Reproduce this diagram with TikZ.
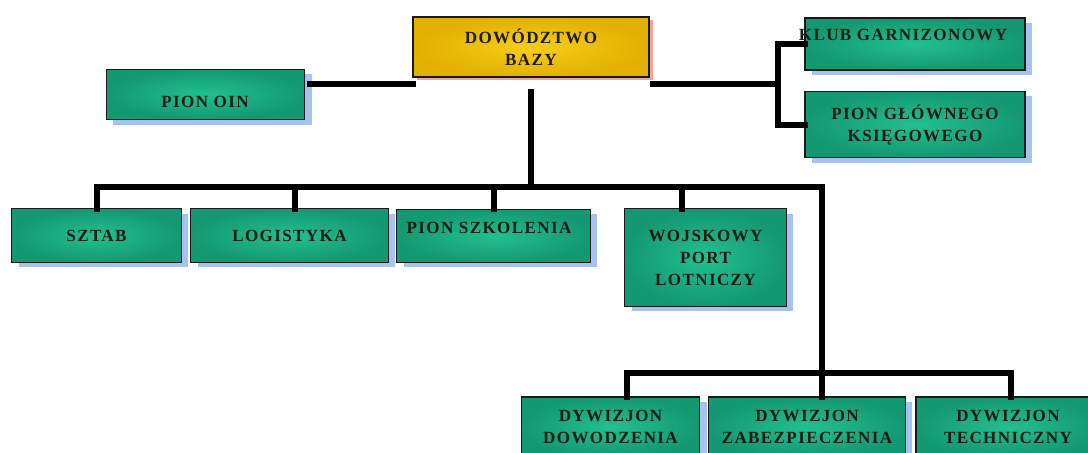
\documentclass[tikz,border=0pt]{standalone}
\usepackage{fontspec}
\setmainfont{Liberation Serif}[LetterSpace=8]
\usetikzlibrary{shadows}
\definecolor{gin}{RGB}{34,192,142}
\definecolor{gout}{RGB}{20,152,114}
\definecolor{yin}{RGB}{248,205,25}
\definecolor{yout}{RGB}{226,176,0}
\definecolor{shblue}{RGB}{165,195,238}
\definecolor{shpink}{RGB}{232,170,150}
\definecolor{edge}{RGB}{25,25,25}
\definecolor{txt}{RGB}{28,28,20}
\begin{document}
\begin{tikzpicture}[x=0.75pt,y=-0.75pt,
  every node/.style={font=\fontsize{12.8}{16.5}\selectfont\bfseries, text=txt, align=center, inner sep=0pt, outer sep=0pt},
  gbox/.style={draw=edge, line width=0.9pt, inner color=gin, outer color=gout,
     drop shadow={shadow xshift=5pt, shadow yshift=-3.5pt, fill=shblue, opacity=1}},
  ybox/.style={draw=edge, line width=0.9pt, inner color=yin, outer color=yout,
     drop shadow={shadow xshift=3pt, shadow yshift=-2.5pt, fill=shpink, opacity=1}},
  conn/.style={line width=4.5pt, line join=miter, line cap=rect}]
\useasboundingbox (0,0) rectangle (1088,453);
\clip (0,0) rectangle (1088,453);
% boxes
\node[ybox, minimum width=177pt, minimum height=45pt] (baza) at (531,47) {DOWÓDZTWO\\BAZY};
\node[gbox, minimum width=149pt, minimum height=38pt] (oin) at (205.5,94.5) {};
\node (oint) at (205,102) {PION OIN};
\node[gbox, minimum width=165pt, minimum height=39pt] (klub) at (915,44) {};
\node (klubt) at (903,35) {KLUB GARNIZONOWY};
\node[gbox, minimum width=165pt, minimum height=50pt] (glow) at (915,124.5) {PION GŁÓWNEGO\\KSIĘGOWEGO};
\node[gbox, minimum width=127pt, minimum height=40pt] (sztab) at (96.5,235.5) {SZTAB};
\node[gbox, minimum width=148pt, minimum height=40pt] (log) at (289.5,235.5) {LOGISTYKA};
\node[gbox, minimum width=145pt, minimum height=40pt] (szk) at (493.5,236) {};
\node (szkt) at (489,228) {PION SZKOLENIA};
\node[gbox, minimum width=121pt, minimum height=73pt] (woj) at (705.5,257.5) {WOJSKOWY\\PORT\\LOTNICZY};
\node[gbox, minimum width=134pt, minimum height=45pt] (dow) at (610.5,427) {DYWIZJON\\DOWODZENIA};
\node[gbox, minimum width=148pt, minimum height=45pt] (zab) at (807,427) {DYWIZJON\\ZABEZPIECZENIA};
\node[gbox, minimum width=138pt, minimum height=45pt] (tech) at (1008,427) {DYWIZJON\\TECHNICZNY};
% junction coordinates
\coordinate (lj) at (413,84);
\coordinate (rj) at (778,84);
\coordinate (bt) at (531,92);
\coordinate (bus) at (531,187);
\coordinate (vr) at (822,187);
\coordinate (bus2) at (822,373);
% connectors
\draw[conn] (310,84) -- (lj);
\draw[conn] (653,84) -- (rj);
\draw[conn] (klub.west) -| (rj) |- (glow.west);
\draw[conn] (bt) -- (bus);
\draw[conn] (97,209) |- (vr) -- (bus2) -- (zab.north -| bus2);
\draw[conn] (log.north -| 295,0) -- (295,187);
\draw[conn] (szk.north -| 494,0) -- (494,187);
\draw[conn] (woj.north -| 682,0) -- (682,187);
\draw[conn] (dow.north -| 627,0) |- (bus2) -| (tech.north -| 1011,0);
\end{tikzpicture}
\end{document}
